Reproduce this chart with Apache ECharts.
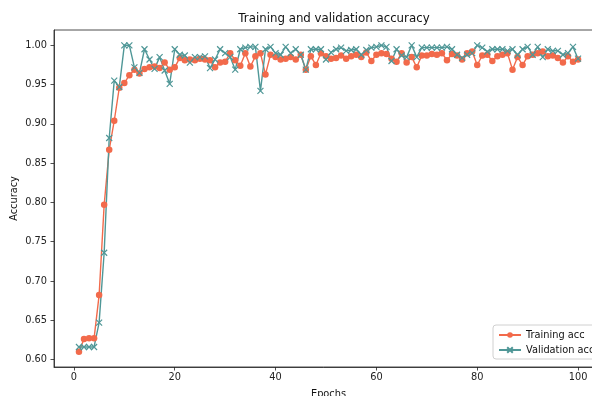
<!DOCTYPE html>
<html>
<head>
<meta charset="utf-8">
<script src="https://cdn.jsdelivr.net/npm/echarts@6/dist/echarts.min.js"></script>
<style>
  html, body { margin: 0; padding: 0; background: #fff; }
  #chart { width: 592px; height: 396px; }
</style>
</head>
<body>
<div id="chart"></div>
<script>
// Per-epoch accuracy of the model on the training and validation sets
const trainAcc = [
  0.610, 0.626, 0.627, 0.627, 0.682, 0.797, 0.867, 0.904, 0.946, 0.952,
  0.962, 0.969, 0.964, 0.970, 0.972, 0.973, 0.971, 0.978, 0.969, 0.972,
  0.984, 0.981, 0.982, 0.981, 0.983, 0.982, 0.981, 0.972, 0.978, 0.979,
  0.990, 0.981, 0.974, 0.990, 0.973, 0.986, 0.990, 0.963, 0.988, 0.985,
  0.982, 0.983, 0.985, 0.982, 0.988, 0.969, 0.986, 0.975, 0.990, 0.986,
  0.983, 0.984, 0.987, 0.983, 0.986, 0.988, 0.985, 0.991, 0.980, 0.988,
  0.990, 0.989, 0.983, 0.979, 0.990, 0.978, 0.985, 0.972, 0.987, 0.987,
  0.989, 0.988, 0.990, 0.981, 0.989, 0.987, 0.982, 0.990, 0.992, 0.975,
  0.987, 0.988, 0.980, 0.986, 0.988, 0.990, 0.969, 0.985, 0.975, 0.986,
  0.988, 0.990, 0.992, 0.986, 0.987, 0.984, 0.978, 0.986, 0.979, 0.982
];
const valAcc = [
  0.616, 0.616, 0.616, 0.616, 0.647, 0.736, 0.882, 0.955, 0.947, 1.000,
  1.000, 0.972, 0.965, 0.995, 0.982, 0.970, 0.985, 0.968, 0.951, 0.995,
  0.988, 0.987, 0.978, 0.985, 0.985, 0.986, 0.971, 0.982, 0.995, 0.990,
  0.985, 0.969, 0.995, 0.997, 0.998, 0.998, 0.942, 0.995, 0.998, 0.990,
  0.988, 0.998, 0.990, 0.995, 0.988, 0.969, 0.995, 0.995, 0.995, 0.982,
  0.991, 0.995, 0.997, 0.993, 0.994, 0.995, 0.988, 0.994, 0.997, 0.998,
  1.000, 0.998, 0.980, 0.995, 0.987, 0.985, 1.000, 0.985, 0.997, 0.997,
  0.997, 0.997, 0.997, 0.998, 0.995, 0.988, 0.984, 0.988, 0.990, 1.000,
  0.997, 0.992, 0.995, 0.995, 0.995, 0.993, 0.995, 0.988, 0.995, 0.998,
  0.988, 0.998, 0.985, 0.995, 0.993, 0.993, 0.988, 0.990, 0.998, 0.983
];
const epochs = trainAcc.map((_, i) => i + 1);
const xTicks = [0, 20, 40, 60, 80, 100];
const yTicks = [0.60, 0.65, 0.70, 0.75, 0.80, 0.85, 0.90, 0.95, 1.00];

const TRAIN_COLOR = '#f26a4b';
const VAL_COLOR = '#4f9797';
const FONT = 'DejaVu Sans';

const chart = echarts.init(document.getElementById('chart'), null, { renderer: 'canvas' });

const crossSymbol = 'path://M0,0L10,10M10,0L0,10';

chart.setOption({
  animation: false,
  backgroundColor: '#fff',
  title: {
    text: 'Training and validation accuracy',
    left: 329, top: 8, textAlign: 'center',
    textStyle: { fontFamily: FONT, fontSize: 11.8, fontWeight: 'normal', color: '#111' }
  },
  grid: {
    left: 54, top: 30, width: 549, height: 337,
    outerBoundsMode: 'none',
    show: true, borderColor: '#222', borderWidth: 0.8, backgroundColor: 'transparent'
  },
  legend: {
    orient: 'vertical',
    left: 493, top: 325,
    itemWidth: 22, itemHeight: 7, itemGap: 5,
    padding: [5, 5, 4, 5],
    backgroundColor: '#fff',
    borderColor: '#d0d0d0', borderWidth: 1, borderRadius: 3,
    textStyle: { fontFamily: FONT, fontSize: 9.8, color: '#111' },
    data: ['Training acc', 'Validation acc']
  },
  xAxis: {
    type: 'value',
    min: -3.95, max: 104.95,
    name: 'Epochs', nameLocation: 'middle', nameGap: 22,
    nameMoveOverlap: false,
    nameTextStyle: { fontFamily: FONT, fontSize: 9.8, color: '#111' },
    axisLine: { show: true, onZero: false, lineStyle: { color: '#222', width: 0.8 } },
    axisTick: { show: true, length: 3.5, lineStyle: { color: '#222', width: 0.8 }, customValues: xTicks },
    axisLabel: { fontFamily: FONT, fontSize: 9.8, color: '#222', margin: 5, customValues: xTicks },
    splitLine: { show: false }
  },
  yAxis: {
    type: 'value',
    min: 0.5905, max: 1.0195,
    name: 'Accuracy', nameLocation: 'middle', nameGap: 35,
    nameMoveOverlap: false,
    nameTextStyle: { fontFamily: FONT, fontSize: 9.8, color: '#111' },
    axisLine: { show: true, onZero: false, lineStyle: { color: '#222', width: 0.8 } },
    axisTick: { show: true, length: 3.5, lineStyle: { color: '#222', width: 0.8 }, customValues: yTicks },
    axisLabel: {
      fontFamily: FONT, fontSize: 9.8, color: '#222', margin: 7, customValues: yTicks,
      formatter: v => v.toFixed(2)
    },
    splitLine: { show: false }
  },
  series: [
    {
      name: 'Training acc',
      type: 'line',
      data: epochs.map((e, i) => [e, trainAcc[i]]),
      symbol: 'circle', symbolSize: 6.5, showAllSymbol: true,
      lineStyle: { color: TRAIN_COLOR, width: 1.4 },
      itemStyle: { color: TRAIN_COLOR, borderWidth: 0 },
      emphasis: { disabled: true }
    },
    {
      name: 'Validation acc',
      type: 'line',
      data: epochs.map((e, i) => [e, valAcc[i]]),
      symbol: crossSymbol, symbolSize: 6, showAllSymbol: true,
      lineStyle: { color: VAL_COLOR, width: 1.4 },
      itemStyle: { color: VAL_COLOR, borderColor: VAL_COLOR, borderWidth: 1.2 },
      emphasis: { disabled: true }
    }
  ]
});
</script>
</body>
</html>
